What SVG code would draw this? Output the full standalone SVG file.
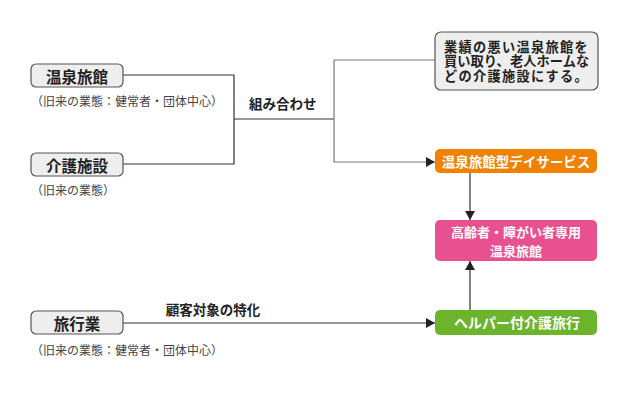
<svg xmlns="http://www.w3.org/2000/svg" width="640" height="400" viewBox="0 0 640 400">
<style>
text{font-family:"Noto Sans CJK JP","Noto Sans",sans-serif;dominant-baseline:central}
.gbox{fill:#eeeeee;stroke:#555;stroke-width:1.2}
.lbl{font-size:15.5px;font-weight:700;fill:#222;text-anchor:middle}
.sub{font-size:12px;fill:#444}
.w{font-size:13.5px;font-weight:700;fill:#fff;text-anchor:middle}
.cl{font-size:13.5px;font-weight:700;fill:#222}
.nt{font-size:13.2px;font-weight:700;fill:#222}
.dk{fill:none;stroke:#333;stroke-width:1.2}
.gr{fill:none;stroke:#777;stroke-width:1.2}
</style>
<defs>
<marker id="ah" markerWidth="10" markerHeight="10" refX="9" refY="5" orient="auto" markerUnits="userSpaceOnUse">
<path d="M0,0 L9,5 L0,10 Z" fill="#222"/>
</marker>
</defs>
<rect width="640" height="400" fill="#fff"/>
<g id="connectors">
<path class="dk" d="M123,75 H234 V164 H123"/>
<path class="dk" d="M234,119 H334"/>
<path class="gr" d="M334,60 H435"/>
<path class="gr" d="M334,60 V162 H435" marker-end="url(#ah)"/>
<path class="dk" d="M470,173 V220" marker-end="url(#ah)"/>
<path class="dk" d="M470,310 V261" marker-end="url(#ah)"/>
<path class="dk" d="M123,323 H435" marker-end="url(#ah)"/>
<text class="cl" x="249" y="103">組み合わせ</text>
<text class="cl" x="213" y="309" text-anchor="middle">顧客対象の特化</text>
</g>
<g id="onsen">
<rect class="gbox" x="31" y="64" width="92" height="23" rx="5"/>
<text class="lbl" x="77" y="76">温泉旅館</text>
<text class="sub" x="31" y="100">（旧来の業態：健常者・団体中心）</text>
</g>
<g id="kaigo">
<rect class="gbox" x="31" y="153" width="92" height="23" rx="5"/>
<text class="lbl" x="77" y="165">介護施設</text>
<text class="sub" x="31" y="189">（旧来の業態）</text>
</g>
<g id="ryokou">
<rect class="gbox" x="31" y="311" width="92" height="23" rx="5"/>
<text class="lbl" x="77" y="323">旅行業</text>
<text class="sub" x="31" y="349">（旧来の業態：健常者・団体中心）</text>
</g>
<g id="note">
<rect class="gbox" x="435" y="32" width="163" height="58" rx="6"/>
<text class="nt" x="444" y="46" letter-spacing="1.3">業績の悪い温泉旅館を</text>
<text class="nt" x="444" y="60.5" letter-spacing="0.1">買い取り、老人ホームな</text>
<text class="nt" x="444" y="75" letter-spacing="1.3">どの介護施設にする。</text>
</g>
<g id="day">
<rect x="435" y="149" width="162" height="24" rx="5" fill="#ef8200"/>
<text class="w" x="516" y="161">温泉旅館型デイサービス</text>
</g>
<g id="special">
<rect x="435" y="220" width="162" height="41" rx="5" fill="#e8508f"/>
<text class="w" x="516" y="231.5" style="font-size:13px">高齢者・障がい者専用</text>
<text class="w" x="516" y="250" style="font-size:13px">温泉旅館</text>
</g>
<g id="helper">
<rect x="435" y="310" width="162" height="25" rx="5" fill="#6cb42c"/>
<text class="w" x="517" y="322" style="font-size:14px">ヘルパー付介護旅行</text>
</g>
</svg>
